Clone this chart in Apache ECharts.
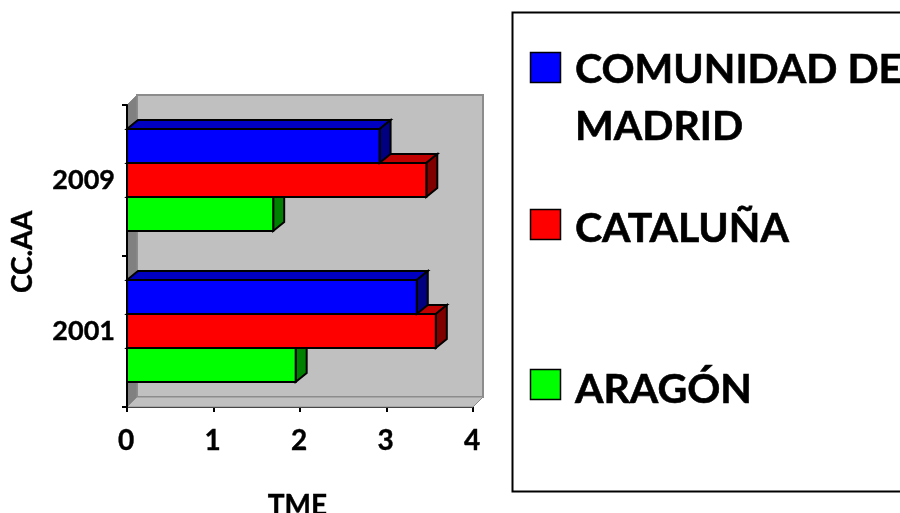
<!DOCTYPE html>
<html>
<head>
<meta charset="utf-8">
<script src="https://cdn.jsdelivr.net/npm/echarts@6/dist/echarts.min.js"></script>
<style>
html, body { margin: 0; padding: 0; background: #fff; }
#chart { width: 900px; height: 513px; }
</style>
</head>
<body>
<div id="chart"></div>
<script>
// data
var years = ['2001', '2009'];
var xTicksMax = 4;
var aragon = [1.95, 1.69];
var cataluna = [3.57, 3.46];
var madrid = [3.35, 2.92];

var seriesNames = ['ARAGÓN', 'CATALUÑA', 'COMUNIDAD DE\nMADRID'];
var seriesValues = [aragon, cataluna, madrid];
var frontColors = ['#00ff00', '#ff0000', '#0000ff'];
var topColors = ['#00c000', '#c00000', '#0000c0'];
var sideColors = ['#008000', '#800000', '#000080'];
var barOffsets = [34, 0, -34];

var WALL_DEPTH = 10;
var BAR_DX = 11;
var BAR_DY = 9;
var BAR_H = 34;
var FONT = 'Lato, "Open Sans", sans-serif';

function poly(points, fill, stroke, w) {
    return {
        type: 'polygon',
        shape: { points: points },
        style: { fill: fill, stroke: stroke, lineWidth: w, lineJoin: 'miter' }
    };
}

// back wall, side wall and floor of the fake 3D box
function renderWalls(params) {
    var c = params.coordSys;
    var l = c.x, t = c.y, r = c.x + c.width, b = c.y + c.height, d = WALL_DEPTH;
    return {
        type: 'group',
        children: [
            poly([[l + d, t - d], [r + d, t - d], [r + d, b - d], [l + d, b - d]], '#c0c0c0', '#8c8c8c', 2),
            poly([[l, t], [l + d, t - d], [l + d, b - d], [l, b]], '#808080', '#8c8c8c', 1),
            poly([[l, b], [l + d, b - d], [r + d, b - d], [r, b]], '#c0c0c0', '#8c8c8c', 1)
        ]
    };
}

function makeBarRenderer(idx) {
    return function (params, api) {
        var start = api.coord([0, api.value(1)]);
        var end = api.coord([api.value(0), api.value(1)]);
        var x0 = start[0], x1 = end[0], dx = BAR_DX, dy = BAR_DY;
        var y0 = end[1] + barOffsets[idx] - BAR_H / 2 - 0.5;
        var y1 = y0 + BAR_H;
        return {
            type: 'group',
            children: [
                poly([[x0, y0], [x0 + dx, y0 - dy], [x1 + dx, y0 - dy], [x1, y0]], topColors[idx], '#000', 2),
                poly([[x1, y0], [x1 + dx, y0 - dy], [x1 + dx, y1 - dy], [x1, y1]], sideColors[idx], '#000', 2),
                poly([[x0, y0], [x1, y0], [x1, y1], [x0, y1]], frontColors[idx], '#000', 2)
            ]
        };
    };
}

var series = [{
    type: 'custom',
    renderItem: renderWalls,
    data: [[0, 0]],
    encode: { x: 0, y: 1 },
    clip: false,
    silent: true,
    z: 1
}];
for (var i = 0; i < seriesValues.length; i++) {
    series.push({
        type: 'custom',
        name: seriesNames[i],
        renderItem: makeBarRenderer(i),
        data: seriesValues[i].map(function (v, k) { return [v, k]; }),
        encode: { x: 0, y: 1 },
        clip: false,
        z: 2 + i
    });
}

// legend is hand placed because its rows are unevenly spaced in the picture
var legendRows = [
    { idx: 2, box: 52.5, text: 41.5 },
    { idx: 1, box: 209.5, text: 200.5 },
    { idx: 0, box: 369.5, text: 361 }
];
var graphic = [{
    type: 'rect',
    shape: { x: 512.5, y: 12.5, width: 420, height: 479 },
    style: { fill: '#fff', stroke: '#000', lineWidth: 2 }
}];
legendRows.forEach(function (row) {
    graphic.push({
        type: 'rect',
        shape: { x: 530.5, y: row.box, width: 30, height: 30 },
        style: { fill: frontColors[row.idx], stroke: '#000', lineWidth: 1.5 }
    });
    graphic.push({
        type: 'text',
        x: 575,
        y: row.text,
        style: {
            text: seriesNames[row.idx],
            font: 'bold 41px ' + FONT,
            lineHeight: 57,
            fill: '#000',
            stroke: '#000',
            lineWidth: 0.6,
            textVerticalAlign: 'top'
        }
    });
});

var chart = echarts.init(document.getElementById('chart'), null, { renderer: 'canvas' });
chart.setOption({
    animation: false,
    backgroundColor: '#fff',
    grid: { left: 127, right: 427, top: 105, bottom: 106, outerBoundsMode: 'none' },
    xAxis: {
        type: 'value',
        min: 0,
        max: xTicksMax,
        interval: 1,
        name: 'TME',
        nameLocation: 'middle',
        nameGap: 85,
        nameTextStyle: { fontFamily: FONT, fontWeight: 'bold', fontSize: 28, color: '#000', textBorderColor: '#000', textBorderWidth: 0.4, padding: [0, 5, 0, 0] },
        axisLine: { show: true, lineStyle: { color: '#000', width: 2 } },
        axisTick: { show: true, length: 5, lineStyle: { color: '#000', width: 2 } },
        axisLabel: { fontFamily: FONT, fontWeight: 'bold', fontSize: 28, color: '#000', textBorderColor: '#000', textBorderWidth: 0.4, margin: 20, padding: [0, 2, 0, 0] },
        splitLine: { show: false }
    },
    yAxis: {
        type: 'category',
        data: years,
        name: 'CC.AA',
        nameLocation: 'middle',
        nameRotate: 90,
        nameGap: 90,
        nameTextStyle: { fontFamily: FONT, fontWeight: 'bold', fontSize: 28, color: '#000', textBorderColor: '#000', textBorderWidth: 0.4, padding: [0, 0, 0, 8] },
        axisLine: { show: true, onZero: false, lineStyle: { color: '#000', width: 2 } },
        axisTick: { show: true, length: 5, lineStyle: { color: '#000', width: 2 } },
        axisLabel: { fontFamily: FONT, fontWeight: 'bold', fontSize: 27, color: '#000', textBorderColor: '#000', textBorderWidth: 0.4, margin: 12, padding: [0, 0, 3, 0] },
        z: 10
    },
    graphic: graphic,
    series: series
});
</script>
</body>
</html>
